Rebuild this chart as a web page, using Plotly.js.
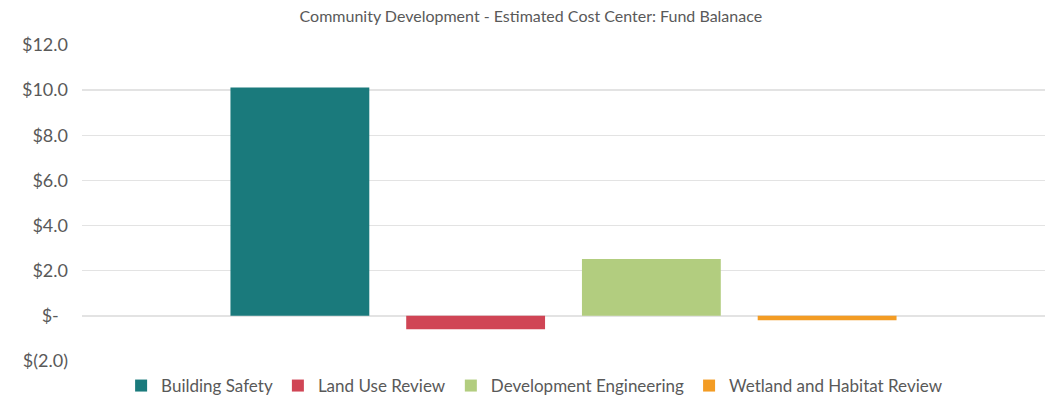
<!DOCTYPE html>
<html>
<head>
<meta charset="utf-8">
<script src="https://cdn.plot.ly/plotly-3.0.1.min.js"></script>
<style>
  html, body { margin: 0; padding: 0; background: #fff; }
  #chart { width: 1045px; height: 404px; }
</style>
</head>
<body>
<div id="chart"></div>
<script>
// one category, four series (values in $ millions)
let category = [' '];
let seriesNames = ['Building Safety', 'Land Use Review', 'Development Engineering', 'Wetland and Habitat Review'];
let seriesValues = [10.12, -0.59, 2.52, -0.19];
let seriesColors = ['#1A7A7C', '#D04555', '#B2CD7F', '#F39C24'];

let tickVals = [-2, 0, 2, 4, 6, 8, 10, 12];
let tickText = ['$(2.0)', '$-  ', '$2.0', '$4.0', '$6.0', '$8.0', '$10.0', '$12.0'];

let traces = seriesNames.map((name, i) => ({
  x: category,
  y: [seriesValues[i]],
  name: name,
  type: 'bar',
  marker: { color: seriesColors[i] },
  hoverinfo: 'name+y'
}));

let layout = {
  width: 1045,
  height: 404,
  margin: { l: 82, r: 0, t: 45, b: 0 },
  paper_bgcolor: '#fff',
  plot_bgcolor: '#fff',
  font: { family: 'Lato, "Open Sans", sans-serif', color: '#595959' },
  title: {
    text: 'Community Development - Estimated Cost Center: Fund Balanace',
    font: { size: 16, color: '#595959' },
    x: 0.508, xanchor: 'center',
    y: 0.96, yanchor: 'middle', yref: 'container'
  },
  barmode: 'group',
  bargap: 0.27,
  bargroupgap: 0.21,
  xaxis: {
    showticklabels: false,
    showgrid: false,
    zeroline: false,
    showline: false,
    ticks: ''
  },
  yaxis: {
    domain: [0.1198, 1],
    range: [-2, 12],
    tickvals: tickVals,
    ticktext: tickText,
    tickfont: { size: 18, color: '#595959' },
    gridcolor: '#e3e3e3',
    gridwidth: 1.5,
    zeroline: true,
    zerolinecolor: '#e3e3e3',
    zerolinewidth: 1.5,
    showline: false,
    ticks: '',
    ticklabelstandoff: 13
  },
  showlegend: true,
  legend: {
    orientation: 'h',
    x: 0.47, xanchor: 'center',
    y: 0, yanchor: 'bottom',
    font: { size: 17, color: '#595959' },
    traceorder: 'normal'
  }
};

Plotly.newPlot('chart', traces, layout, { displayModeBar: false, staticPlot: true });
</script>
</body>
</html>
